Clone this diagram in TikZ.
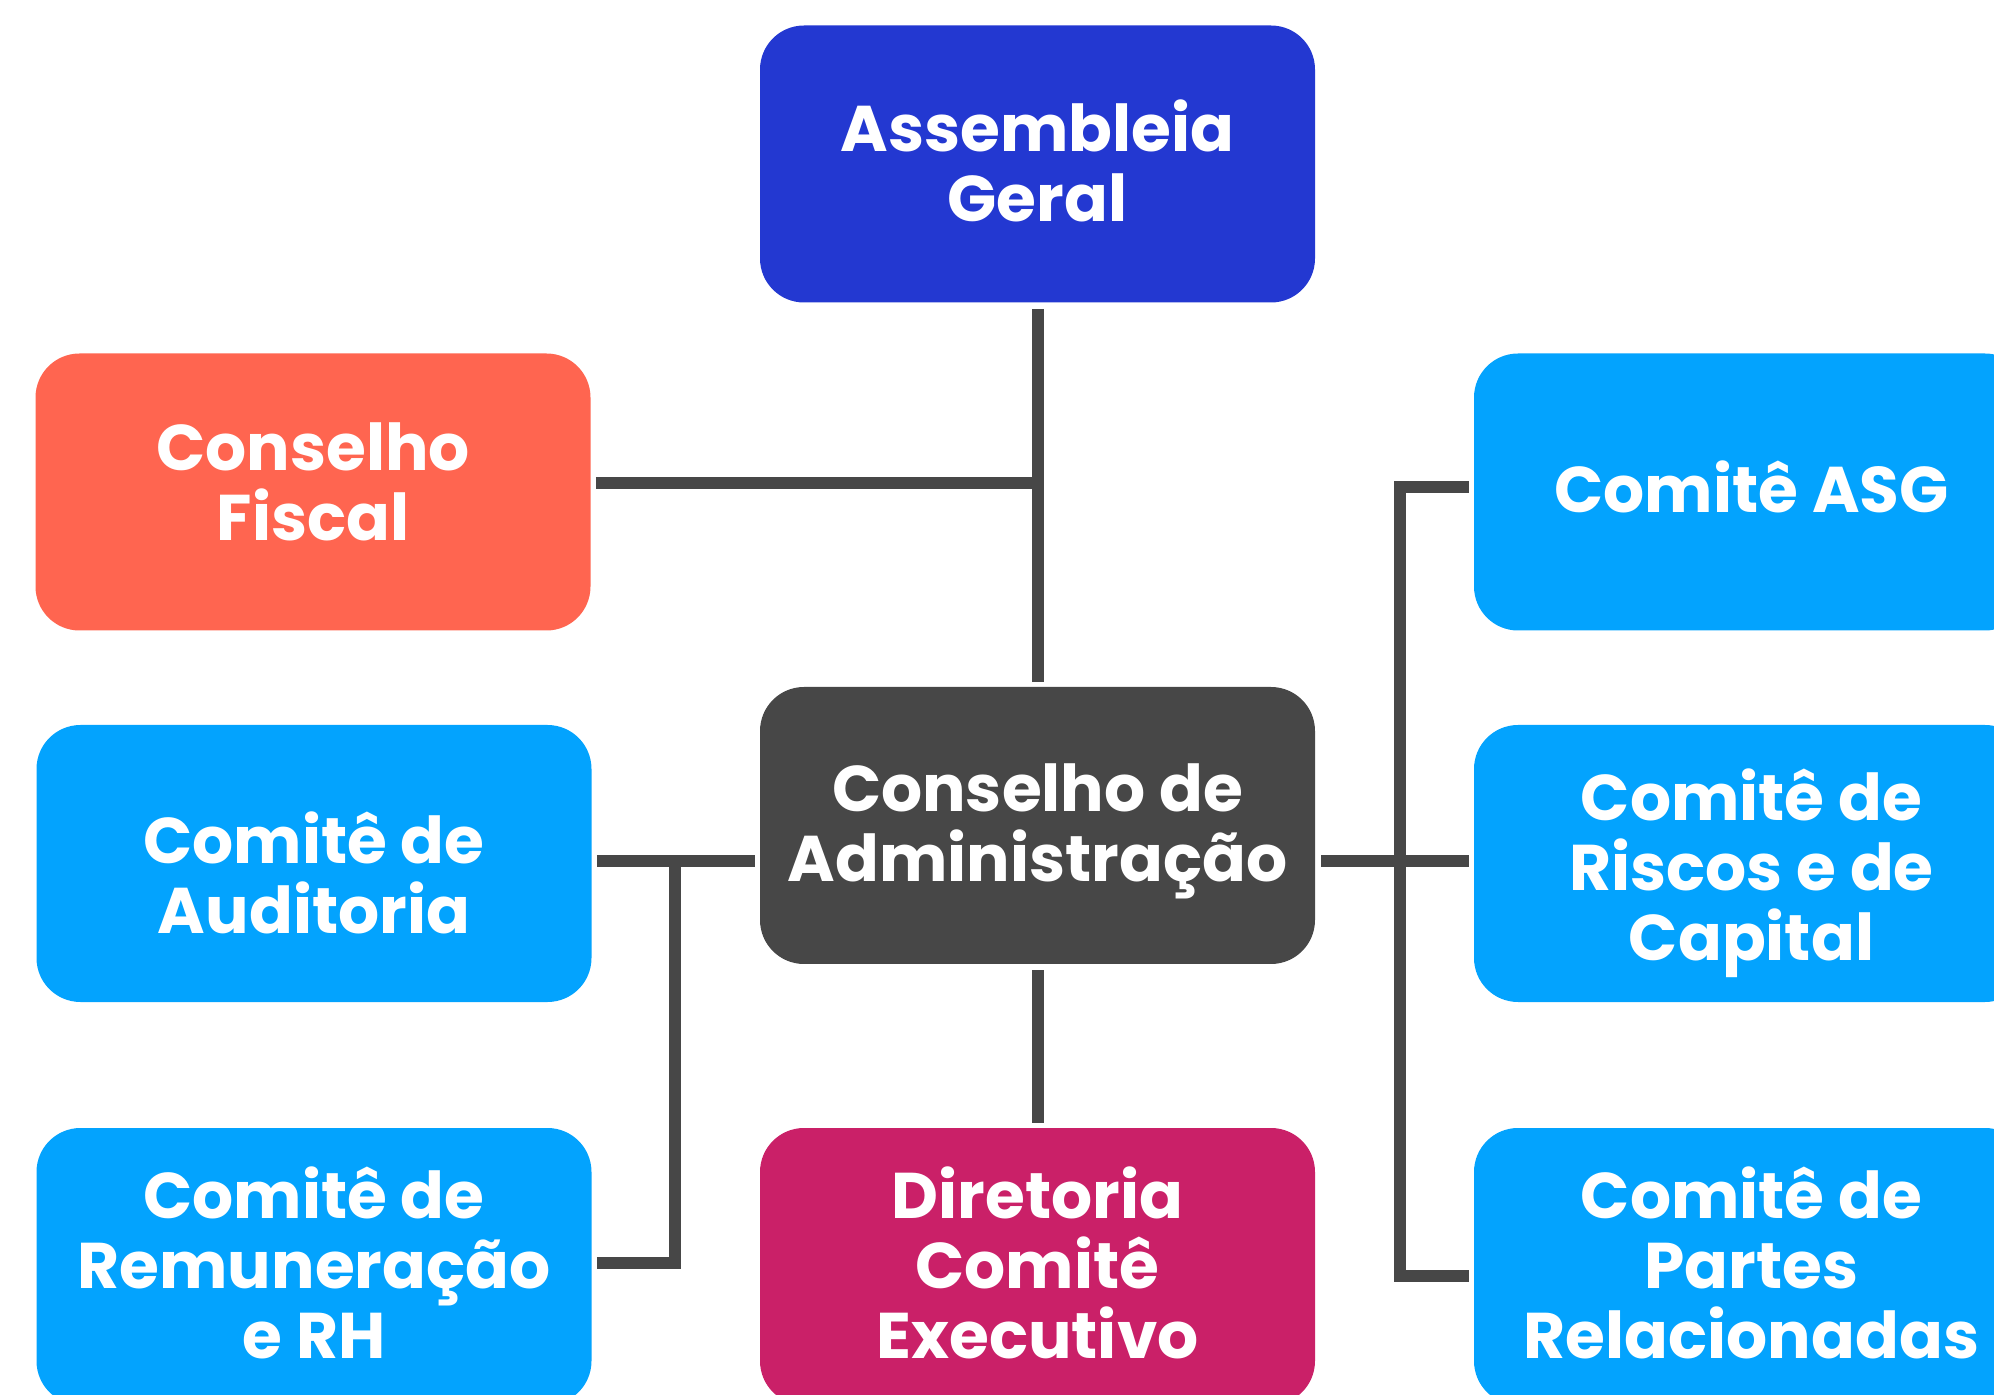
\documentclass[tikz,border=0pt]{standalone}
\usepackage{fontspec}
\setmainfont{Poppins}
\definecolor{cblue}{HTML}{2338D1}
\definecolor{cred}{HTML}{FF6550}
\definecolor{clight}{HTML}{03A3FE}
\definecolor{cdark}{HTML}{474747}
\definecolor{cmag}{HTML}{CA2068}
\begin{document}
\begin{tikzpicture}[x=0.5pt,y=-0.5pt,
  box/.style={rectangle, rounded corners=22pt, minimum width=277.5pt, minimum height=138.5pt,
    inner sep=0pt},
  txt/.style={inner sep=0pt, text=white, align=center, font=\fontsize{32.3}{35}\selectfont\bfseries},
  conn/.style={draw=cdark, line width=6pt, line cap=butt, line join=miter}]
\useasboundingbox (0,0) rectangle (1994,1395);
\begin{scope}
\clip (0,0) rectangle (1994,1395);
\node[box, fill=cblue] (ag) at (1037.5,164) {};
\node[box, fill=cred] (cf) at (313,492) {};
\node[box, fill=clight] (asg) at (1751.5,492) {};
\node[box, fill=clight] (aud) at (314,863.5) {};
\node[box, fill=cdark] (ca) at (1037.5,825.5) {};
\node[box, fill=clight] (ris) at (1751.5,863.5) {};
\node[box, fill=clight] (rem) at (314,1266.5) {};
\node[box, fill=cmag] (dir) at (1037.5,1266.5) {};
\node[box, fill=clight] (par) at (1751.5,1266.5) {};
\node[txt] (agt) at ([yshift=1.5pt]ag.center) {Assembleia\\Geral};
\node[txt] (cft) at ([yshift=5pt]cf.center) {Conselho\\Fiscal};
\node[txt] (asgt) at ([yshift=2.5pt]asg.center) {Comitê ASG};
\node[txt] (audt) at ([yshift=-4.5pt]aud.center) {Comitê de\\Auditoria};
\node[txt] (cat) at ([yshift=-3pt]ca.center) {Conselho de\\Administração};
\node[txt] (rist) at ([yshift=-5pt]ris.center) {Comitê de\\Riscos e de\\Capital};
\node[txt] (remt) at ([yshift=2pt]rem.center) {Comitê de\\Remuneração\\e RH};
\node[txt] (dirt) at ([yshift=2pt]dir.center) {Diretoria\\Comitê\\Executivo};
\node[txt] (part) at ([yshift=2pt]par.center) {Comitê de\\Partes\\Relacionadas};
\end{scope}
\coordinate (fj) at (1038,483);
\coordinate (lj) at (675,861);
\coordinate (lb) at (675,1263);
\coordinate (rj) at (1400,861);
\coordinate (rt) at (1400,487);
\coordinate (rb) at (1400,1276);
\draw[conn] ([yshift=-3pt]ag.south) -- ([yshift=2.5pt]ca.north);
\draw[conn] ([yshift=-3pt]ca.south) -- ([yshift=2.5pt]dir.north);
\draw[conn] ([xshift=2.5pt]cf.east |- fj) -- ([xshift=-3pt]fj);
\draw[conn] ([xshift=2.5pt]aud.east |- lj) -- ([xshift=-2.5pt]ca.west |- lj);
\draw[conn] ([xshift=2.5pt]rem.east |- lb) -- (lb) -- (lj);
\draw[conn] ([xshift=3pt]ca.east |- rj) -- ([xshift=-2.5pt]ris.west |- rj);
\draw[conn] ([xshift=-2.5pt]asg.west |- rt) -- (rt) -- (rb) -- ([xshift=-2.5pt]par.west |- rb);
\end{tikzpicture}
\end{document}
